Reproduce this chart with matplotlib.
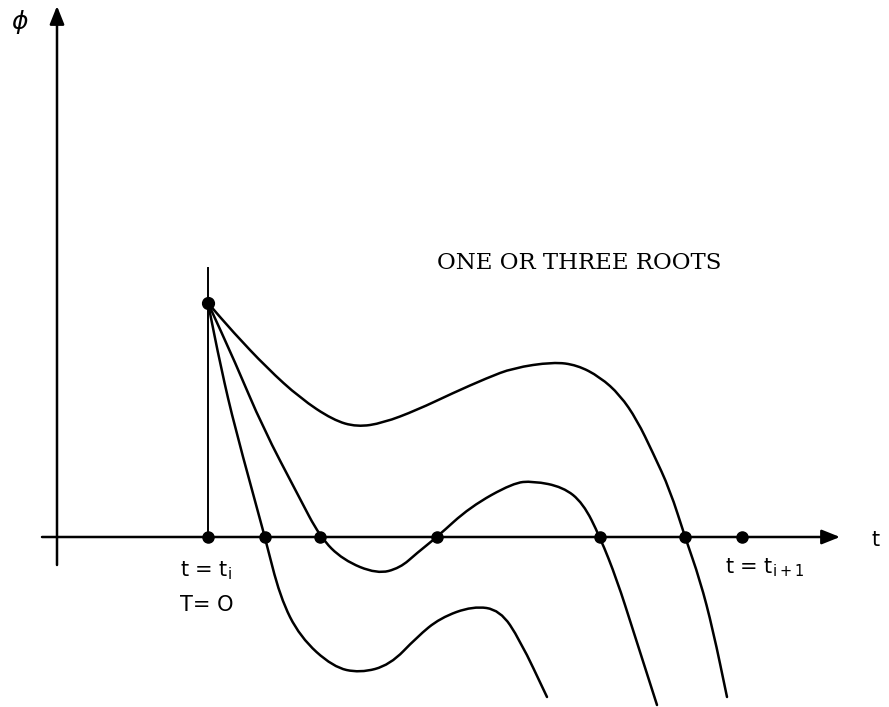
import matplotlib.pyplot as plt
from matplotlib.path import Path
from matplotlib.patches import PathPatch

# start point of every trajectory at t = t_i
t0, phi0 = 1.51, 2.34

# three trajectories phi(t)
t_upper = [1.51, 1.76, 2.10, 2.43, 2.76, 3.00, 3.26, 3.60, 3.96, 4.30, 4.56, 4.96,
           5.20, 5.43, 5.63, 5.80, 5.96, 6.13, 6.28, 6.43, 6.56, 6.70]
phi_upper = [2.34, 2.05, 1.69, 1.39, 1.17, 1.10, 1.14, 1.27, 1.44, 1.59, 1.69, 1.75,
             1.72, 1.60, 1.42, 1.17, 0.84, 0.47, 0.00, -0.43, -0.93, -1.60]

t_middle = [1.51, 1.78, 2.06, 2.41, 2.63, 2.86, 3.20, 3.43, 3.60, 3.80, 4.13,
            4.56, 4.76, 5.06, 5.26, 5.43, 5.60, 5.76, 6.00]
phi_middle = [2.34, 1.75, 1.09, 0.42, 0.00, -0.23, -0.37, -0.31, -0.16, 0.00, 0.30,
              0.54, 0.56, 0.50, 0.34, 0.00, -0.43, -0.93, -1.68]

t_lower = [1.51, 1.64, 1.78, 2.08, 2.23, 2.43, 2.76, 3.03, 3.33, 3.60, 3.83,
           4.16, 4.43, 4.63, 4.90]
phi_lower = [2.34, 1.69, 1.09, 0.00, -0.60, -1.00, -1.30, -1.36, -1.28, -1.00, -0.81,
             -0.69, -0.73, -1.03, -1.60]

# roots on the t axis and the end of the step
roots = [1.51, 2.08, 2.63, 3.80, 5.43, 6.28, 6.85]


def smooth_path(t, phi):
    # quadratic bezier through the midpoints, read points act as control points
    pts = list(zip(t, phi))
    verts = [pts[0]]
    codes = [Path.MOVETO]
    mid = lambda a, b: ((a[0] + b[0]) / 2, (a[1] + b[1]) / 2)
    verts.append(mid(pts[0], pts[1]))
    codes.append(Path.LINETO)
    for i in range(1, len(pts) - 1):
        verts += [pts[i], mid(pts[i], pts[i + 1])]
        codes += [Path.CURVE3, Path.CURVE3]
    verts.append(pts[-1])
    codes.append(Path.LINETO)
    return Path(verts, codes)


fig = plt.figure(figsize=(8.89, 7.07), dpi=100)
ax = fig.add_axes([0, 0, 1, 1])
ax.set_xlim(-0.57, 8.32)
ax.set_ylim(-1.70, 5.37)
ax.axis('off')

arrow = dict(arrowstyle='-|>,head_length=0.55,head_width=0.22', mutation_scale=20,
             lw=1.8, color='black', shrinkA=0, shrinkB=0)
ax.annotate('', xy=(7.83, 0), xytext=(-0.15, 0), arrowprops=arrow)
ax.annotate('', xy=(0, 5.31), xytext=(0, -0.28), arrowprops=arrow)

ax.plot([t0, t0], [0, 2.69], color='black', lw=1.4)

for t, phi in [(t_upper, phi_upper), (t_middle, phi_middle), (t_lower, phi_lower)]:
    ax.add_patch(PathPatch(smooth_path(t, phi), fill=False, ec='black', lw=1.8,
                           joinstyle='round', capstyle='round'))

ax.plot(roots, [0] * len(roots), 'o', color='black', ms=8)
ax.plot([t0], [phi0], 'o', color='black', ms=8.5)

ax.text(-0.37, 5.15, r'$\phi$', fontsize=18, ha='center', va='center')
ax.text(8.19, -0.03, 't', fontsize=15, ha='center', va='center')
ax.text(1.23, -0.34, r't = t$_{\mathregular{i}}$', fontsize=15, ha='left', va='center')
ax.text(1.23, -0.68, 'T= O', fontsize=15, ha='left', va='center')
ax.text(6.68, -0.31, r't = t$_{\mathregular{i+1}}$', fontsize=15, ha='left', va='center')
ax.text(5.79 - 0.57, 2.74, 'ONE OR THREE ROOTS', fontsize=16.5, family='DejaVu Serif',
        ha='center', va='center')

plt.savefig('out.png', format='png', dpi=100)
